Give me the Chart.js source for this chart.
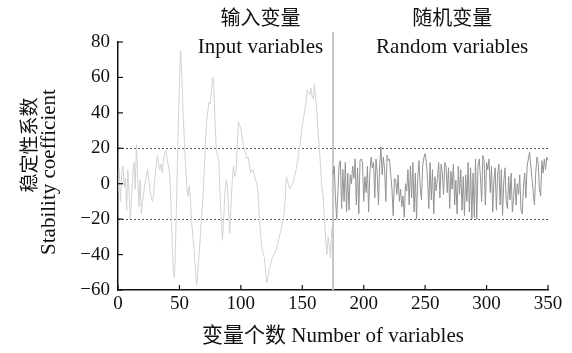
<!DOCTYPE html>
<html>
<head>
<meta charset="utf-8">
<script src="https://cdn.jsdelivr.net/npm/chart.js@4/dist/chart.umd.min.js"></script>
<style>
  html, body { margin: 0; padding: 0; background: #fff; }
  #wrap { width: 572px; height: 353px; }
</style>
</head>
<body>
<div id="wrap"><canvas id="stabilityChart" width="572" height="353"></canvas></div>
<script>
// stability coefficient of the input variables (index 0..174)
const inputValues = [
  -5, 8, -10, 5, 10, -2, 3, -15, 8, -5,
  -20, -8, 5, 12, -3, 22, 5, -13, 2, -17,
  -10, -5, 0, 4, 8, 2, -3, -8, -10, -6,
  3, 10, 16, 12, 8, 11, 6, 13, 17, 19,
  14, 10, 6, -10, -30, -50, -53, -30, 0, 30,
  58, 75, 60, 40, 25, 10, -2, -7, -1, -10,
  -22, -30, -38, -48, -57, -50, -40, -30, -18, -9,
  5, 20, 34, 40, 46, 45, 52, 60, 55, 35,
  19, 16, 13, -5, -20, -32, -20, -5, 2, -1,
  -15, -28, -12, 2, 10, 4, 6, 20, 35, 33,
  31, 26, 22, 19, 17, 14, 15, 10, 6, 8,
  8, 5, 2, 0, -5, -18, -28, -36, -39, -41,
  -48, -56, -53, -48, -46, -43, -41, -40, -39, -37,
  -34, -31, -28, -25, -21, -18, -10, 4, 2, -2,
  -3, -1, 0, 2, 5, 8, 12, 17, 21, 27,
  33, 37, 41, 46, 53, 51, 50, 54, 49, 48,
  56, 47, 40, 28, 19, 8, -2, -8, -20, -32,
  -40, -30, -35, -42, -25
];

// stability coefficient of the random variables (index 175..350)
const randomValues = [
  5, 10, -8, -20, -5, 11, 13, -14, 8, -10,
  12, -16, 6, -15, 5, 0, 10, 3, 14, -12,
  9, -17, 13, 14, 12, -10, 4, -5, 10, -16,
  6, 15, 9, 12, -8, 14, 6, -12, 10, 21,
  5, 15, 8, -10, 16, 13, 14, 5, -3, -18,
  3, 2, -6, 5, -10, -3, -13, -7, -19, 0,
  -4, 8, -12, 10, -8, 12, -16, 6, -20, 4,
  13, -2, -9, 10, 15, 17, 12, 2, -14, 12,
  -9, 8, -17, 4, -4, 3, 12, -8, 11, 6,
  -6, 12, 10, -5, 9, -14, 7, -3, 11, -12,
  2, -17, 10, -6, 8, -15, 4, -18, 5, -10,
  12, -16, 9, -20, 6, -19, 14, -20, 10, 14,
  4, -10, 16, 13, -12, 12, 8, 14, -5, 10,
  -16, 2, 9, -15, 5, 11, -12, 8, -18, 1,
  9, -10, -14, 4, -9, 6, -16, -8, 3, -12,
  0, -6, 5, -15, -17, -2, 6, -8, 10, 14,
  18, 10, 3, -5, -12, 6, 15, 12, -3, -7,
  13, 6, 14, 8, 15, 13
];

const splitAt = 175;
const xTicks = [0, 50, 100, 150, 200, 250, 300, 350];
const yTicks = [-60, -40, -20, 0, 20, 40, 60, 80];
const limitLines = [20, -20];

const serif = '"Liberation Serif", "DejaVu Serif", "Noto Sans CJK SC", serif';

const inputPoints = inputValues.map((v, i) => ({ x: i, y: v }));
const randomPoints = randomValues.map((v, i) => ({ x: splitAt + i, y: v }));

// dotted limits, split line, inward ticks and all the text labels
const decorPlugin = {
    id: 'decor',
    beforeDatasetsDraw(chart) {
        const { ctx, chartArea: area, scales: { x, y } } = chart;
        ctx.save();
        ctx.strokeStyle = '#555';
        ctx.lineWidth = 1;
        ctx.setLineDash([2, 2]);
        limitLines.forEach(v => {
            const py = Math.round(y.getPixelForValue(v)) + 0.5;
            ctx.beginPath();
            ctx.moveTo(area.left, py);
            ctx.lineTo(area.right, py);
            ctx.stroke();
        });
        ctx.setLineDash([]);
        ctx.strokeStyle = '#c8c8c8';
        ctx.lineWidth = 2;
        const sx = x.getPixelForValue(splitAt);
        ctx.beginPath();
        ctx.moveTo(sx, area.bottom);
        ctx.lineTo(sx, area.top - 10);
        ctx.stroke();
        ctx.restore();
    },
    afterDraw(chart) {
        const { ctx, chartArea: area, scales: { x, y } } = chart;
        ctx.save();
        ctx.strokeStyle = '#111';
        ctx.lineWidth = 1.2;
        yTicks.forEach(v => {
            const py = y.getPixelForValue(v);
            ctx.beginPath();
            ctx.moveTo(area.left, py);
            ctx.lineTo(area.left + 5, py);
            ctx.stroke();
        });
        xTicks.forEach(v => {
            const px = x.getPixelForValue(v);
            ctx.beginPath();
            ctx.moveTo(px, area.bottom);
            ctx.lineTo(px, area.bottom - 5);
            ctx.stroke();
        });

        ctx.fillStyle = '#111';
        ctx.textAlign = 'center';
        ctx.textBaseline = 'middle';
        const lx = x.getPixelForValue(116);
        const rx = x.getPixelForValue(272);
        ctx.font = '20px ' + serif;
        ctx.fillText('输入变量', lx, 20);
        ctx.fillText('随机变量', rx, 20);
        ctx.font = '21px ' + serif;
        ctx.fillText('Input variables', lx, 47);
        ctx.fillText('Random variables', rx, 47);

        ctx.fillText('变量个数 Number of variables', (area.left + area.right) / 2, 336);

        ctx.save();
        ctx.translate(31, 145);
        ctx.rotate(-Math.PI / 2);
        ctx.font = '19px ' + serif;
        ctx.fillText('稳定性系数', 0, 0);
        ctx.restore();
        ctx.save();
        ctx.translate(49, 172);
        ctx.rotate(-Math.PI / 2);
        ctx.fillText('Stability coefficient', 0, 0);
        ctx.restore();
        ctx.restore();
    }
};

function createStabilityChart() {
    const ctx = document.getElementById('stabilityChart').getContext('2d');
    new Chart(ctx, {
        type: 'line',
        data: {
            datasets: [{
                label: 'Input variables',
                data: inputPoints,
                borderColor: '#d2d2d2',
                borderWidth: 1,
                pointRadius: 0,
                tension: 0
            }, {
                label: 'Random variables',
                data: randomPoints,
                borderColor: '#939393',
                borderWidth: 1,
                pointRadius: 0,
                tension: 0
            }]
        },
        options: {
            responsive: false,
            animation: false,
            layout: {
                padding: { top: 42, right: 24, left: 0, bottom: 0 }
            },
            plugins: {
                legend: { display: false },
                tooltip: { enabled: false }
            },
            scales: {
                x: {
                    type: 'linear',
                    min: 0,
                    max: 350,
                    afterBuildTicks: s => { s.ticks = xTicks.map(v => ({ value: v })); },
                    afterFit: s => { s.height = 63; },
                    ticks: {
                        padding: 3,
                        color: '#111',
                        font: { family: serif, size: 19 }
                    },
                    grid: { display: false, drawTicks: false },
                    border: { color: '#111', width: 1.5 }
                },
                y: {
                    min: -60,
                    max: 80,
                    afterBuildTicks: s => { s.ticks = yTicks.map(v => ({ value: v })); },
                    afterFit: s => { s.width = 118; },
                    ticks: {
                        padding: 8,
                        color: '#111',
                        font: { family: serif, size: 19 },
                        callback: v => String(v).replace('-', '\u2212')
                    },
                    grid: { display: false, drawTicks: false },
                    border: { color: '#111', width: 1.5 }
                }
            }
        },
        plugins: [decorPlugin]
    });
}

createStabilityChart();
</script>
</body>
</html>
